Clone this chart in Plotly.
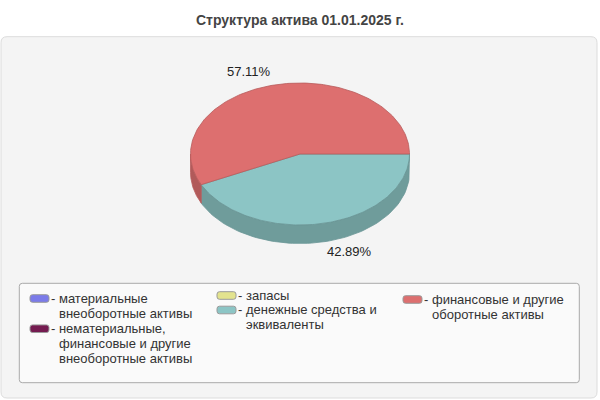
import numpy as np
import plotly.graph_objects as go

# --- данные ---
title = "Структура актива 01.01.2025 г."
categories = [
    "материальные<br>внеоборотные активы",
    "нематериальные,<br>финансовые и другие<br>внеоборотные активы",
    "запасы",
    "денежные средства и<br>эквиваленты",
    "финансовые и другие<br>оборотные активы",
]
shares = [0.0, 0.0, 0.0, 42.89, 57.11]

# --- стиль ---
top_colors = ["#7B7BE9", "#741B50", "#E3E38E", "#8CC5C5", "#DD6F6F"]
side_colors = ["#5F5FB8", "#56133B", "#B3B36E", "#6F9C9B", "#B15A5A"]
edge_colors = ["#5555AA", "#4A1032", "#A0A060", "#6A9595", "#B85C5C"]
FONT = "Liberation Sans, Arial, sans-serif"

# геометрия псевдо-3D круга (в пикселях)
CX, CY = 300, 154
RX, RY = 109.5, 71
DEPTH = 18.5


def ell(theta_deg):
    t = np.radians(theta_deg)
    return CX + RX * np.cos(t), CY - RY * np.sin(t)


def rounded_rect(x0, y0, x1, y1, r):
    return (f"M{x0 + r},{y0} L{x1 - r},{y0} Q{x1},{y0} {x1},{y0 + r} "
            f"L{x1},{y1 - r} Q{x1},{y1} {x1 - r},{y1} L{x0 + r},{y1} "
            f"Q{x0},{y1} {x0},{y1 - r} L{x0},{y0 + r} Q{x0},{y0} {x0 + r},{y0} Z")


fig = go.Figure()

# углы секторов: от 3 часов по часовой стрелке
total = sum(shares)
slices = []
start = 0.0
for i, v in enumerate(shares):
    end = start - 360.0 * v / total
    if v > 0:
        slices.append((i, end, start))
    start = end

# боковые стенки (видна только передняя половина: углы от -180 до 0)
for i, lo, hi in slices:
    a, b = max(lo, -180.0), min(hi, 0.0)
    if a >= b:
        continue
    th = np.linspace(a, b, 80)
    x, y = ell(th)
    xs = np.concatenate([x, x[::-1], [x[0]]])
    ys = np.concatenate([y, y[::-1] + DEPTH, [y[0]]])
    fig.add_trace(go.Scatter(x=xs, y=ys, fill="toself", mode="lines",
                             fillcolor=side_colors[i],
                             line=dict(color=edge_colors[i], width=0.8),
                             hoverinfo="skip", showlegend=False))

# верхние грани
for i, lo, hi in slices:
    th = np.linspace(lo, hi, 160)
    x, y = ell(th)
    xs = np.concatenate([[CX], x, [CX]])
    ys = np.concatenate([[CY], y, [CY]])
    fig.add_trace(go.Scatter(x=xs, y=ys, fill="toself", mode="lines",
                             fillcolor=top_colors[i],
                             line=dict(color=edge_colors[i], width=0.8),
                             text=categories[i].replace("<br>", " "),
                             hoverinfo="text", showlegend=False))

# подписи процентов
for i, lo, hi in slices:
    mid = (lo + hi) / 2
    px, py = ell(mid)
    front = np.sin(np.radians(mid)) < 0
    left = np.cos(np.radians(mid)) < 0
    fig.add_annotation(
        x=px + (-3 if left else 1), y=py + (DEPTH if front else -4),
        text=f"{shares[i]:.2f}%", showarrow=False,
        xanchor="right" if left else "left",
        yanchor="top" if front else "bottom",
        font=dict(family=FONT, size=13, color="#222222"))

# фон панели и рамка легенды
fig.add_shape(type="path", path=rounded_rect(1, 36.7, 597, 398, 6),
              fillcolor="#F4F4F4", line=dict(color="#DCDCDC", width=1), layer="below")
fig.add_shape(type="path", path=rounded_rect(19.3, 283.3, 579.3, 382.7, 3),
              fillcolor="#FAFAFA", line=dict(color="#A9A9A9", width=1), layer="below")

# легенда: (x образца, y первой строки, межстрочный интервал)
legend_slots = [(30, 298.5, 15.3), (30, 328.7, 15.3),
                (217, 295.5, 14.6), (217, 310, 14.6),
                (403, 299.5, 15.5)]
for i, (lx, ly, gap) in enumerate(legend_slots):
    fig.add_shape(type="path", path=rounded_rect(lx, ly - 3.8, lx + 19, ly + 3.8, 2.5),
                  fillcolor=top_colors[i], line=dict(color="#9A9A9A", width=1))
    for k, line in enumerate(categories[i].split("<br>")):
        fig.add_annotation(
            x=lx + 19 if k == 0 else lx + 26.5, y=ly + k * gap - 0.5,
            text=("- " + line) if k == 0 else line, showarrow=False,
            xanchor="left", yanchor="middle",
            font=dict(family=FONT, size=13, color="#333333"))

# заголовок
fig.add_annotation(x=300, y=20, text=f"<b>{title}</b>", showarrow=False,
                   xanchor="center", yanchor="middle",
                   font=dict(family=FONT, size=14, color="#444444"))

fig.update_layout(
    width=600, height=400,
    margin=dict(l=0, r=0, t=0, b=0),
    paper_bgcolor="white", plot_bgcolor="rgba(0,0,0,0)",
    xaxis=dict(range=[0, 600], visible=False, fixedrange=True),
    yaxis=dict(range=[400, 0], visible=False, fixedrange=True),
    showlegend=False,
)

# убрать отступ body, чтобы график начинался в углу окна
fig.write_html("out.html", config={"displayModeBar": False},
               post_script="document.body.style.margin='0';")
